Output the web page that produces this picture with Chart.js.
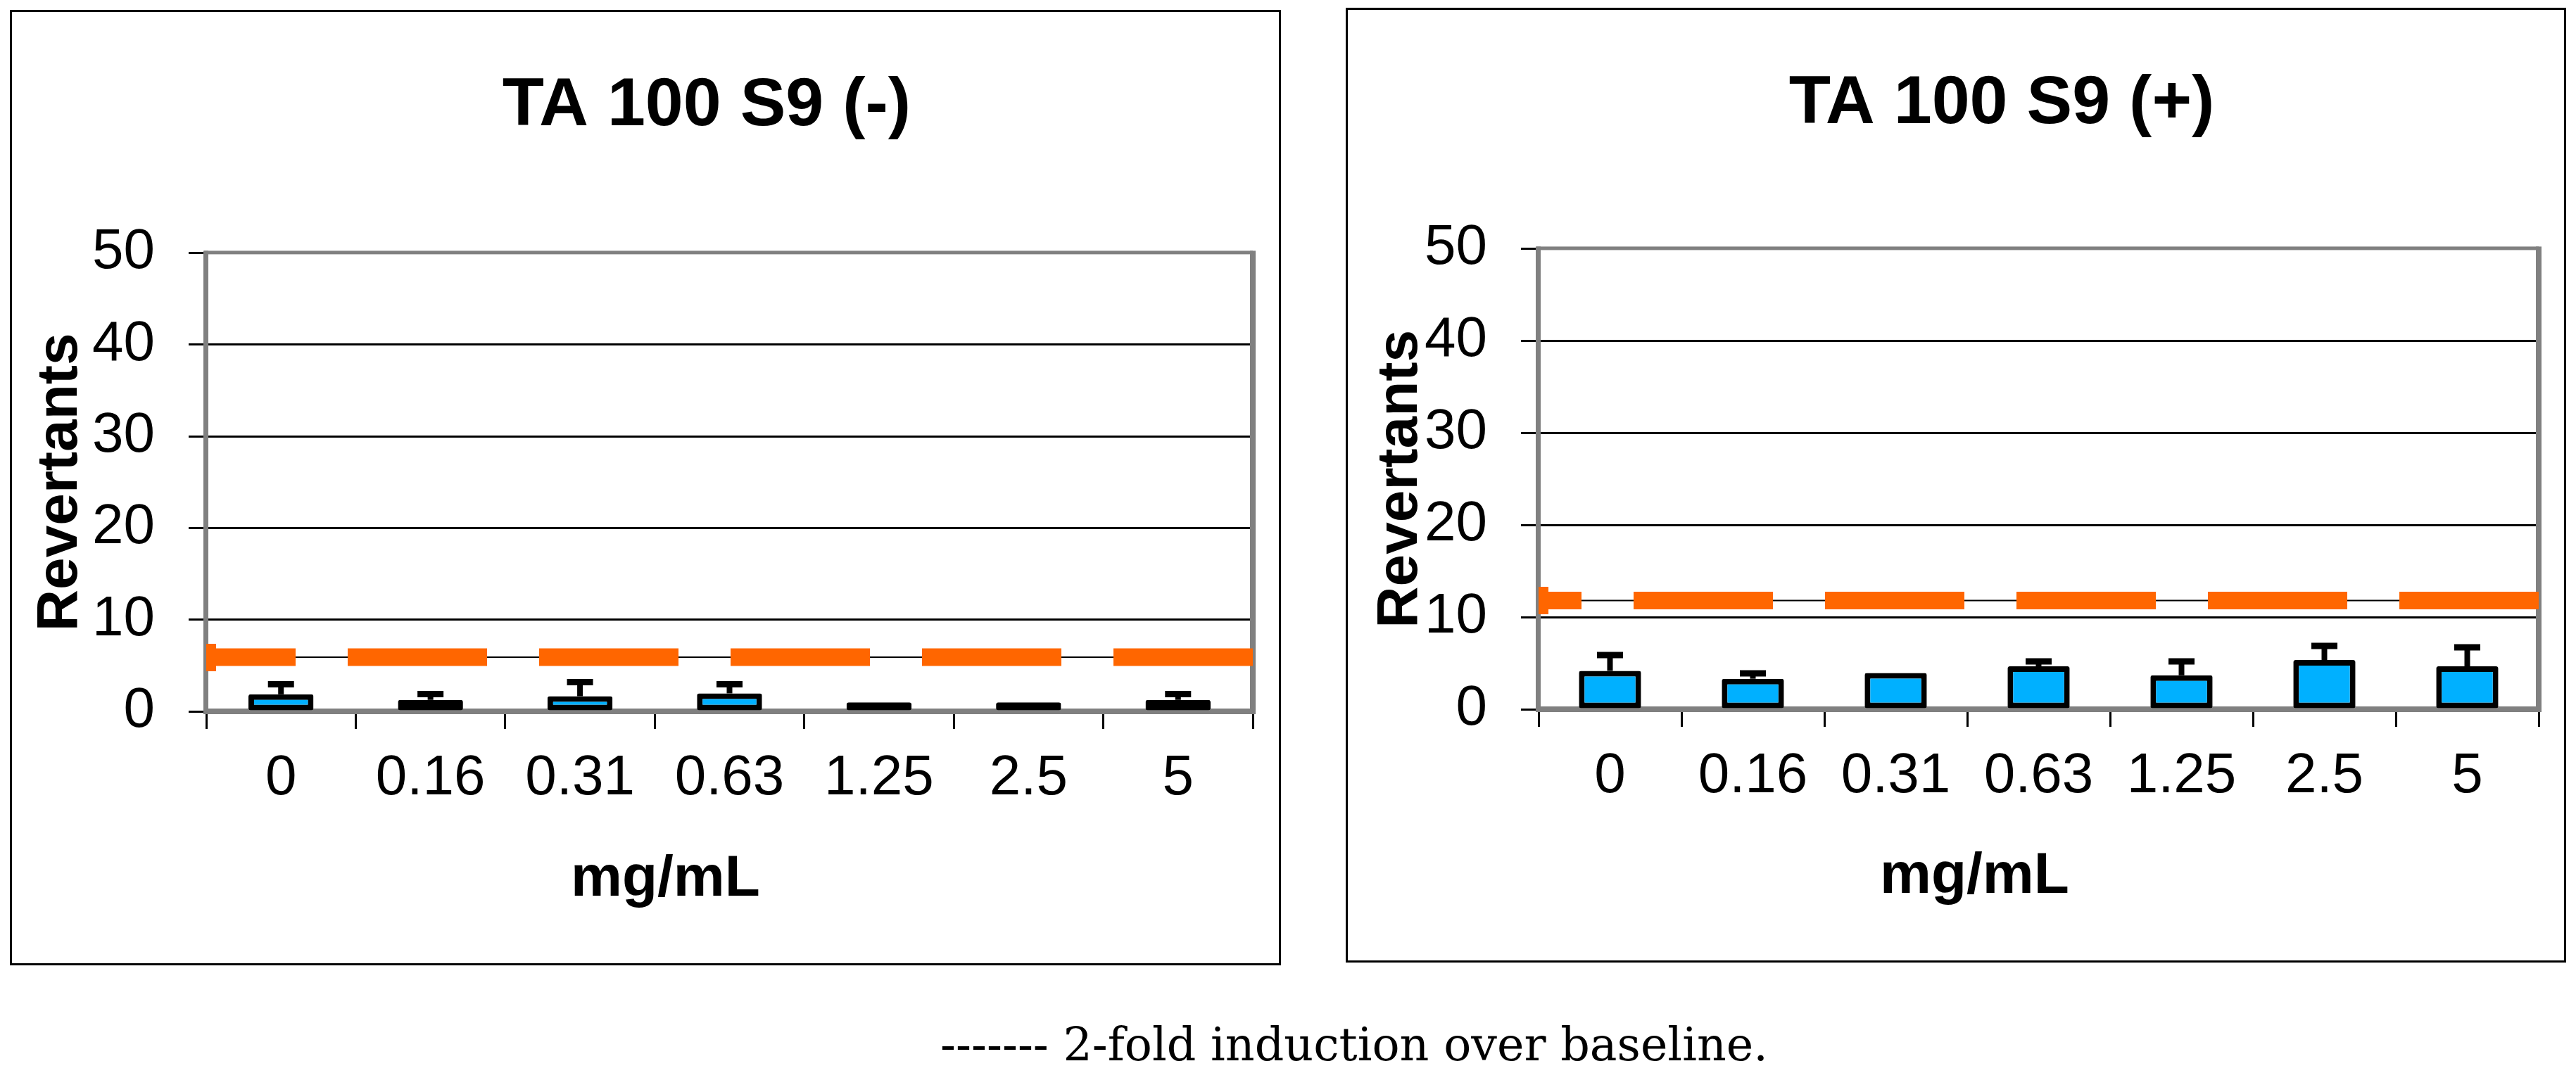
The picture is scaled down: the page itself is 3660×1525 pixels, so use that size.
<!DOCTYPE html>
<html>
<head>
<meta charset="utf-8">
<title>TA 100 S9</title>
<script src="https://cdn.jsdelivr.net/npm/chart.js@4.4.1/dist/chart.umd.min.js"></script>
<style>
  html, body { margin: 0; padding: 0; background: #fff; width: 3660px; height: 1525px; overflow: hidden; }
  .frame { position: absolute; border: 3px solid #000; box-sizing: border-box; }
  canvas { position: absolute; }
  #note {
    position: absolute; left: 0; top: 1452px; width: 3848px;
    text-align: center; font: 65px "DejaVu Serif", serif; line-height: 65px; color: #000;
  }
</style>
</head>
<body>
<div class="frame" style="left:14px; top:14px; width:1806px; height:1358px;"></div>
<div class="frame" style="left:1912px; top:11px; width:1734px; height:1357px;"></div>
<canvas id="minusChart" width="1978" height="1355" style="left:15px; top:15px;"></canvas>
<canvas id="plusChart" width="1862" height="1354" style="left:1913px; top:12px;"></canvas>
<div id="note">------- 2-fold induction over baseline.</div>

<script>
// data
const doses = ['0', '0.16', '0.31', '0.63', '1.25', '2.5', '5'];

const minusMeans  = [1.86, 1.25, 1.65, 1.96, 0.97, 0.97, 1.25];
const minusErrors = [1.09, 0.63, 1.53, 0.99, 0, 0, 0.63];
const minusFold = 5.9;

const plusMeans  = [4.17, 3.31, 3.94, 4.66, 3.69, 5.34, 4.66];
const plusErrors = [1.71, 0.59, 0, 0.53, 1.50, 1.53, 2.06];
const plusFold = 11.8;

const yMax = 50;
const yStep = 10;

const SANS = 'Liberation Sans, Arial, sans-serif';

// orange end marker of the 2-fold line
const marker = document.createElement('canvas');
marker.width = 28;
marker.height = 39;
const mctx = marker.getContext('2d');
mctx.fillStyle = '#ff6600';
mctx.fillRect(0, 0, 28, 39);

// grey plot-area border like the spreadsheet chart
const plotFrame = {
    id: 'plotFrame',
    beforeDatasetsDraw(chart) {
        const { ctx, chartArea: a } = chart;
        ctx.save();
        ctx.fillStyle = '#808080';
        ctx.fillRect(a.left - 3, a.top - 3, a.right - a.left + 3, 5);
        ctx.fillRect(a.left - 4, a.top - 3, 7, a.bottom - a.top + 7);
        ctx.fillRect(a.right - 4, a.top - 3, 8, a.bottom - a.top + 7);
        ctx.fillRect(a.left - 4, a.bottom - 4, a.right - a.left + 8, 8);
        ctx.restore();
    }
};

// upper error bars
const errorBars = {
    id: 'errorBars',
    afterDatasetsDraw(chart, args, opts) {
        const idx = chart.data.datasets.findIndex(d => d.type === 'bar');
        const meta = chart.getDatasetMeta(idx);
        const values = chart.data.datasets[idx].data;
        const y = chart.scales.y;
        const ctx = chart.ctx;
        ctx.save();
        ctx.strokeStyle = '#000';
        meta.data.forEach((bar, i) => {
            const err = opts.errors[i];
            if (!err) return;
            const top = y.getPixelForValue(values[i]);
            const cap = y.getPixelForValue(values[i] + err);
            ctx.lineWidth = 8;
            ctx.beginPath();
            ctx.moveTo(bar.x, top);
            ctx.lineTo(bar.x, cap);
            ctx.stroke();
            ctx.lineWidth = 9;
            ctx.beginPath();
            ctx.moveTo(bar.x - 18.5, cap);
            ctx.lineTo(bar.x + 18.5, cap);
            ctx.stroke();
        });
        ctx.restore();
    }
};

function makeChart(id, cfg) {
    // drawn right to left so the dash pattern starts at the right edge, as in the original
    const foldLine = [{ x: doses.length, y: cfg.fold }, { x: 0, y: cfg.fold }];
    return new Chart(document.getElementById(id), {
        type: 'bar',
        data: {
            labels: doses,
            datasets: [
                {
                    type: 'line',
                    xAxisID: 'xl',
                    yAxisID: 'y',
                    data: foldLine,
                    borderColor: '#ff6600',
                    borderWidth: 25,
                    borderDash: [198, 74],
                    borderCapStyle: 'butt',
                    pointStyle: marker,
                    pointRadius: [0, 14],
                    clip: 0,
                    order: 0
                },
                {
                    type: 'line',
                    xAxisID: 'xl',
                    yAxisID: 'y',
                    data: foldLine,
                    borderColor: '#000',
                    borderWidth: 2,
                    pointRadius: 0,
                    order: 1
                },
                {
                    type: 'bar',
                    xAxisID: 'x',
                    yAxisID: 'y',
                    data: cfg.means,
                    backgroundColor: '#00b0ff',
                    borderColor: '#000',
                    borderWidth: 8,
                    borderSkipped: false,
                    borderRadius: 3,
                    grouped: false,
                    barPercentage: 0.435,
                    categoryPercentage: 1,
                    order: 2
                }
            ]
        },
        options: {
            responsive: false,
            animation: false,
            layout: { padding: 0 },
            scales: {
                x: {
                    type: 'category',
                    offset: true,
                    grid: { display: true, drawOnChartArea: false, drawTicks: true, tickLength: 25,
                            color: '#000', lineWidth: 3, offset: true },
                    border: { display: false },
                    ticks: { color: '#000', font: { family: SANS, size: 80 }, padding: 23 },
                    title: {
                        display: true,
                        text: 'mg/mL        ',
                        color: '#000',
                        font: { family: SANS, size: 82, weight: 'bold' },
                        padding: { top: 0, bottom: 70 }
                    },
                    afterFit: s => { s.height = cfg.xHeight; }
                },
                xl: { type: 'linear', axis: 'x', display: false, offset: false, min: 0, max: doses.length },
                y: {
                    type: 'linear',
                    position: 'left',
                    min: 0,
                    max: yMax,
                    ticks: { stepSize: yStep, color: '#000', font: { family: SANS, size: 80 }, padding: 48 },
                    grid: { color: '#000', lineWidth: 3, tickLength: 25, tickColor: '#000' },
                    border: { display: false },
                    title: {
                        display: true,
                        text: 'Revertants',
                        color: '#000',
                        font: { family: SANS, size: 82, weight: 'bold' },
                        padding: { top: cfg.yTitlePad, bottom: 0 }
                    },
                    afterFit: s => { s.width = cfg.yWidth; }
                },
                // empty right axis, only keeps the title centred where the original has it
                y2: {
                    type: 'linear',
                    axis: 'y',
                    position: 'right',
                    display: true,
                    grid: { display: false },
                    border: { display: false },
                    ticks: { display: false },
                    afterFit: s => { s.width = cfg.rightWidth; }
                }
            },
            plugins: {
                legend: { display: false },
                tooltip: { enabled: false },
                title: {
                    display: true,
                    text: cfg.title,
                    color: '#000',
                    font: { family: SANS, size: 97, weight: 'bold' },
                    padding: { top: 78, bottom: cfg.titleBottom }
                },
                errorBars: { errors: cfg.errors }
            }
        },
        plugins: [plotFrame, errorBars]
    });
}

makeChart('minusChart', {
    title: 'TA 100 S9 (-)',
    means: minusMeans,
    errors: minusErrors,
    fold: minusFold,
    yWidth: 278,
    rightWidth: 213,
    xHeight: 359,
    titleBottom: 150,
    yTitlePad: 22
});

makeChart('plusChart', {
    title: 'TA 100 S9 (+)',
    means: plusMeans,
    errors: plusErrors,
    fold: plusFold,
    yWidth: 273,
    rightWidth: 168,
    xHeight: 358,
    titleBottom: 147,
    yTitlePad: 28
});
</script>
</body>
</html>
